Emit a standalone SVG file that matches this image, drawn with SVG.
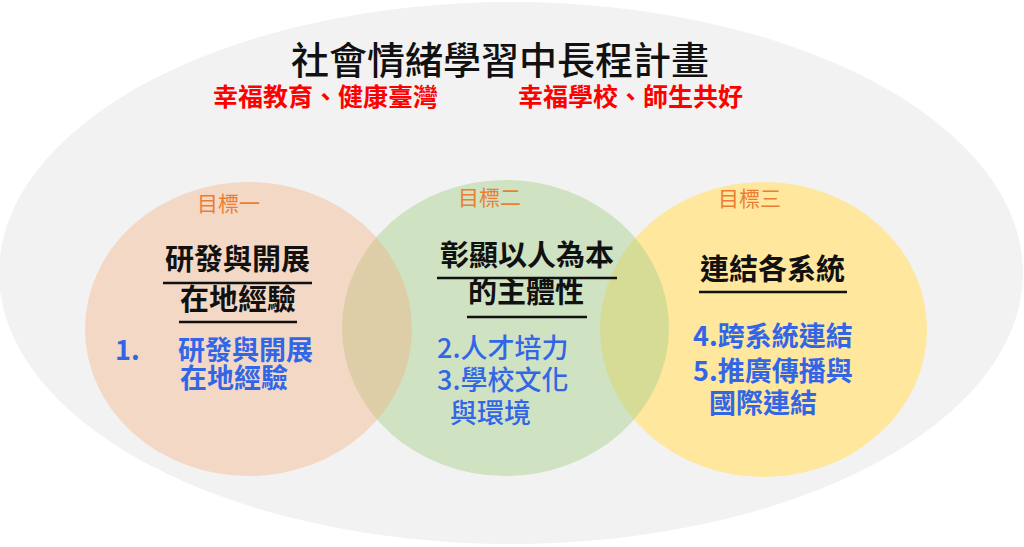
<svg xmlns="http://www.w3.org/2000/svg" width="1024" height="547" viewBox="0 0 1024 547">
<style>
text{font-family:"Noto Sans CJK TC","Noto Sans CJK SC",sans-serif}
.title{font-size:38px;font-weight:500;fill:#111}
.sub{font-size:25px;font-weight:700;fill:#ff0000}
.goal{font-size:21px;font-weight:400;fill:#ED7D31}
.head{font-size:29px;font-weight:700;fill:#111}
.item{font-size:27px;font-weight:700;fill:#3366E6}
.item2{font-size:27px;font-weight:500;fill:#3366E6}
.ul{stroke:#111;stroke-width:2.5}
</style>
<rect width="1024" height="547" fill="#ffffff"/>
<g id="background">
<ellipse cx="511" cy="273" rx="512" ry="271" fill="#f2f2f2"/>
<text class="title" x="291" y="74">社會情緒學習中長程計畫</text>
<text class="sub" x="213" y="106">幸福教育、健康臺灣</text>
<text class="sub" x="518" y="106">幸福學校、師生共好</text>
</g>
<g id="goal3">
<ellipse cx="763.5" cy="329.5" rx="163.5" ry="147.5" fill="#FFE699" fill-opacity="0.95"/>
<text class="goal" x="718" y="206">目標三</text>
<text class="head" x="700" y="280">連結各系統</text>
<line class="ul" x1="699" y1="292" x2="847" y2="292"/>
<text class="item" x="693" y="346">4.跨系統連結</text>
<text class="item" x="693" y="381">5.推廣傳播與</text>
<text class="item" x="709" y="413">國際連結</text>
</g>
<g id="goal2">
<ellipse cx="505.5" cy="328" rx="163.5" ry="148" fill="#A9D18E" fill-opacity="0.48"/>
<text class="goal" x="458" y="205">目標二</text>
<text class="head" x="440" y="266">彰顯以人為本</text>
<line class="ul" x1="437" y1="278" x2="617" y2="278"/>
<text class="head" x="468" y="303">的主體性</text>
<line class="ul" x1="467" y1="317" x2="587" y2="317"/>
<text class="item2" x="437" y="358">2.人才培力</text>
<text class="item2" x="437" y="390">3.學校文化</text>
<text class="item2" x="450" y="423">與環境</text>
</g>
<g id="goal1">
<ellipse cx="248.5" cy="329" rx="163.5" ry="147" fill="#F4B183" fill-opacity="0.4"/>
<text class="goal" x="197" y="211">目標一</text>
<text class="head" x="165" y="270">研發與開展</text>
<line class="ul" x1="163" y1="283" x2="312" y2="283"/>
<text class="head" x="180" y="310">在地經驗</text>
<line class="ul" x1="179" y1="322" x2="297" y2="322"/>
<text class="item" x="115" y="360">1.</text>
<text class="item" x="178" y="360">研發與開展</text>
<text class="item" x="180" y="388">在地經驗</text>
</g>
<g id="connectors"/>
</svg>
